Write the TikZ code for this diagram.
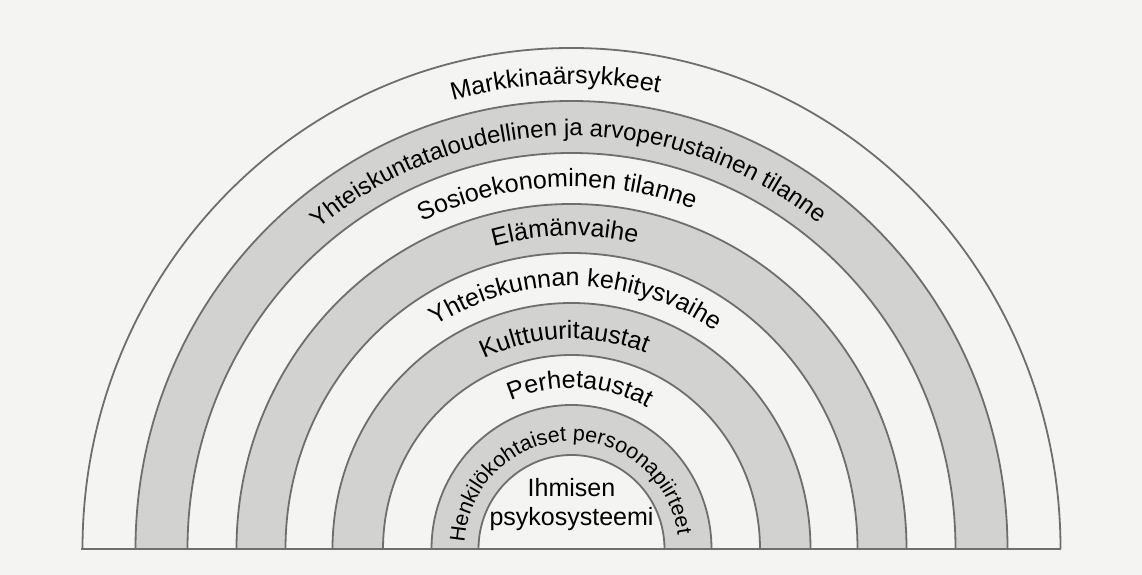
\documentclass[tikz,border=0pt]{standalone}
\usepackage{fontspec}
\setmainfont{Liberation Sans}
\usetikzlibrary{decorations.text}
\definecolor{paper}{RGB}{244,244,242}
\definecolor{band}{RGB}{210,210,208}
\definecolor{rim}{RGB}{110,110,110}
\newcommand\bandtext[6]{%
  \path[decorate,decoration={text along path,text align=center,
    text={|\fontsize{#5}{#5}\selectfont|#6}}]
    (C) ++({#3+#4}:#1pt and #2pt)
    arc[start angle={#3+#4}, end angle={#3-#4}, x radius=#1pt, y radius=#2pt];}
\begin{document}
\begin{tikzpicture}[x=1pt,y=1pt,
  rimline/.style={draw=rim,line width=1.8pt},
  coretext/.style={align=center,inner sep=0pt,font=\fontsize{25}{29}\selectfont}]
\fill[paper] (0,0) rectangle (1142,575);
\useasboundingbox (0,0) rectangle (1142,575);
\coordinate (C) at (571.5,26);
% filled half-ellipses, outermost first
\foreach \a/\b/\col in {489/501/paper,436/448/band,384/396/paper,335/345/band,
    286/296/paper,239/246/band,188.5/194/paper,140/144/band,93/94/paper}{
  \fill[\col] (C) ++(\a pt,0) arc[start angle=0,end angle=180,x radius=\a pt,y radius=\b pt] -- cycle;
  \draw[rimline] (C) ++(\a pt,0) arc[start angle=0,end angle=180,x radius=\a pt,y radius=\b pt];
}
\coordinate (BL) at (81,26);
\coordinate (BR) at (1061,26);
\draw[rimline,line width=2.4pt] (BL) -- (BR);
% texts
\bandtext{453}{465}{92}{40}{25}{Markkinaärsykkeet}
\bandtext{401}{413}{90.5}{85}{24}{Yhteiskuntataloudellinen ja arvoperustainen tilanne}
\bandtext{352}{362}{92.4}{60}{25}{Sosioekonominen tilanne}
\bandtext{303}{313}{91.2}{60}{25}{Elämänvaihe}
\bandtext{256}{263}{89}{70}{25}{Yhteiskunnan kehitysvaihe}
\bandtext{205}{210}{92}{80}{25}{Kulttuuritaustat}
\bandtext{157}{161}{87}{80}{25}{Perhetaustat}
\bandtext{107}{108}{92}{120}{21.5}{Henkilökohtaiset persoonapiirteet}
\node[coretext] (core) at (571.5,70) {Ihmisen\\psykosysteemi};
\end{tikzpicture}
\end{document}
